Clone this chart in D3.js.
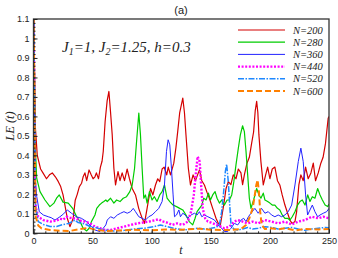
<!DOCTYPE html>
<html>
<head>
<meta charset="utf-8">
<script src="https://cdn.jsdelivr.net/npm/d3@7"></script>
<style>
  body { margin: 0; background: #fff; }
  svg { display: block; }
</style>
</head>
<body>
<div id="chart"></div>
<script>
// ticks
var xTicks = [0, 50, 100, 150, 200, 250];
var yTicks = [0, 0.1, 0.2, 0.3, 0.4, 0.5, 0.6, 0.7, 0.8, 0.9, 1, 1.1];

// N=200
var tRed = [0,1.5,3.2,6,8,11,13.5,15.9,18.5,21,23,25,27,28.6,30.8,33.6,35.3,37,38.8,40.7,42,43.5,45,47,48.8,50.4,52,53.2,55,56.6,58,59,60.6,62.3,63.8,65.2,66.6,68,69.4,71.5,73.2,75,77,79.2,81.2,83.5,86.3,89,91.9,93.9,96.1,99,101,103.2,105.1,106.8,108.8,110.5,112.7,114,115.9,118.7,120.5,122,123.7,126.3,127.7,129,131,132.8,135,137,138.8,140.4,142.4,144.6,146.8,148.8,151.6,154.4,156.4,158.1,160.9,162.9,164.8,167,169,171.3,173.3,175.5,176.9,178.4,180.6,182.6,184.5,186.2,187.6,188.8,189.8,190.7,192.4,194.4,196.4,198.1,200,202,204.2,206.4,208.4,210.4,212.7,215,216.9,218.9,221.2,222.6,224.5,226.2,228.2,230.2,232.4,234.7,236.7,238.6,240.9,243.1,245,247,249.3,250];
var vRed = [1.2,0.55,0.40,0.33,0.31,0.28,0.30,0.31,0.29,0.265,0.24,0.197,0.13,0.077,0.034,0.077,0.17,0.20,0.24,0.257,0.29,0.31,0.27,0.325,0.30,0.28,0.29,0.31,0.28,0.34,0.37,0.42,0.574,0.68,0.728,0.62,0.505,0.334,0.248,0.317,0.27,0.31,0.27,0.33,0.28,0.23,0.197,0.128,0.077,0.051,0.128,0.23,0.197,0.248,0.28,0.265,0.33,0.34,0.30,0.34,0.30,0.36,0.44,0.522,0.62,0.694,0.62,0.505,0.334,0.248,0.30,0.27,0.30,0.325,0.27,0.248,0.21,0.18,0.128,0.077,0.05,0.043,0.145,0.23,0.265,0.25,0.30,0.28,0.33,0.31,0.25,0.30,0.36,0.39,0.46,0.52,0.63,0.677,0.62,0.505,0.368,0.248,0.30,0.34,0.28,0.33,0.34,0.27,0.248,0.197,0.145,0.103,0.068,0.05,0.06,0.11,0.248,0.30,0.27,0.34,0.28,0.31,0.36,0.27,0.31,0.36,0.39,0.46,0.59,0.60];

// N=280
var tGreen = [0,1.5,2.7,5.5,9.7,13.9,17.3,19.5,21.8,25,29.4,33.1,36.5,39.4,42,45,47.1,49,52,53.5,55.7,57.6,59.5,61.2,62.4,65.2,68,70.3,73.2,75.9,78.7,81.5,83.5,85.5,87.2,89.1,90.5,91.9,93.3,94.7,96.1,98.1,100.3,102.3,104.5,106.8,108.8,110.8,113,115.3,118.1,121,123.7,126.3,129,131.8,134.7,136.7,138.4,140.4,142.4,144,146,148,149.7,151.6,153.6,155.3,157.3,159.2,161.5,163.8,165.7,167.7,169.5,171.3,173.3,175,176.9,178.4,179.8,181.2,182.6,184,186.2,188.8,190.7,192.4,194.4,195.8,198.1,200,202,204.2,206.4,208.4,210.4,212.7,215,216.9,218.9,221.2,223.4,225.4,227.4,229.7,232,233.9,235.9,238.1,240.4,242.4,244.4,246.7,248.9,250];
var vGreen = [1.2,0.45,0.283,0.214,0.171,0.137,0.155,0.18,0.197,0.16,0.155,0.128,0.085,0.06,0.026,0.012,0.026,0.06,0.094,0.128,0.145,0.155,0.163,0.171,0.163,0.18,0.155,0.171,0.163,0.18,0.188,0.214,0.248,0.334,0.471,0.617,0.505,0.334,0.18,0.197,0.155,0.214,0.171,0.188,0.163,0.197,0.214,0.248,0.18,0.163,0.145,0.137,0.128,0.12,0.094,0.06,0.043,0.077,0.111,0.128,0.145,0.18,0.171,0.206,0.171,0.197,0.214,0.18,0.155,0.171,0.145,0.171,0.171,0.197,0.265,0.351,0.437,0.505,0.552,0.522,0.42,0.30,0.18,0.128,0.171,0.23,0.197,0.18,0.206,0.171,0.163,0.155,0.145,0.145,0.128,0.12,0.094,0.077,0.077,0.068,0.085,0.111,0.145,0.163,0.171,0.145,0.197,0.163,0.188,0.18,0.23,0.197,0.171,0.145,0.137,0.15];

// N=360
var tBlue = [0,1.3,2.7,4.9,8.3,12.5,15,18.2,22.4,25.5,28.6,32.1,36.3,40.5,44.9,49.2,52,56.2,59,61.2,62.4,65.2,68,70.9,73.7,76.5,79.3,82.1,84.4,86.3,89.1,91.9,94.7,97.5,100.3,103.2,106,108.8,110.8,112.5,113.9,115.3,116.7,118.1,119.3,121,123,124.3,126.3,128.3,130.5,133.3,136.2,138.4,140.4,142.4,144.6,147.5,150.3,153.1,155.3,157.3,159.2,161.5,164.3,167.1,169.9,172.8,175.6,177.8,179.8,181.8,184,187.3,190.1,192.9,195.8,198.6,201.4,204.2,207,209.9,212.7,215.5,218.4,221.2,224,226.2,228.2,230.2,231.9,233.9,235.9,238.1,240.4,242.4,245.2,248,250];
var vBlue = [1.2,0.30,0.19,0.111,0.094,0.085,0.08,0.068,0.085,0.10,0.12,0.103,0.085,0.077,0.06,0.034,0.017,0.009,0.026,0.043,0.068,0.085,0.077,0.094,0.103,0.111,0.103,0.111,0.128,0.111,0.085,0.077,0.068,0.085,0.094,0.111,0.128,0.163,0.248,0.42,0.48,0.454,0.334,0.197,0.085,0.094,0.12,0.085,0.103,0.094,0.077,0.094,0.103,0.094,0.111,0.085,0.094,0.085,0.077,0.068,0.051,0.034,0.026,0.009,0.009,0.026,0.051,0.043,0.068,0.077,0.06,0.085,0.103,0.128,0.103,0.128,0.103,0.111,0.094,0.085,0.094,0.085,0.094,0.111,0.145,0.248,0.368,0.437,0.368,0.197,0.094,0.12,0.145,0.111,0.085,0.094,0.103,0.111,0.128];

// N=440
var tMag = [0,1.3,2,4,8.3,14,19.6,22.4,25,28,30.8,36.5,39.4,43.5,47.8,52,56.2,60.5,65.2,70.9,76.5,82.1,87.8,93.4,99,103.2,106,108.8,113,117.3,121.5,126.3,130.5,133.3,135.6,137.5,138.9,140.6,141.8,143.2,145.2,147.5,150.3,154.5,158.6,161.5,165.7,169.9,172.8,177,181.2,185.4,190.1,195.8,201.4,207,212.7,218.4,224,229.7,235.3,241,245.2,250];
var vMag = [1.2,0.2,0.13,0.085,0.068,0.06,0.065,0.075,0.07,0.085,0.08,0.075,0.065,0.06,0.051,0.034,0.026,0.017,0.017,0.026,0.034,0.043,0.051,0.056,0.062,0.068,0.072,0.062,0.055,0.043,0.051,0.043,0.06,0.111,0.197,0.317,0.394,0.368,0.248,0.128,0.077,0.06,0.055,0.045,0.034,0.026,0.034,0.06,0.068,0.06,0.051,0.06,0.051,0.068,0.06,0.051,0.06,0.045,0.06,0.068,0.085,0.077,0.085,0.077];

// N=520
var tDd = [0,1.7,2.7,4,8.3,14,19.6,25,29.4,33.6,35,37.8,43.5,47.8,53.4,59,68,76.5,85,93.4,101.8,107.4,113,118.7,122,127.7,133.3,139,144.6,150.3,154.5,157.3,159.2,160.9,162.3,163.4,164.8,166,167.1,169.4,172.8,177,181.2,185.4,190,195.8,201.4,207,212.7,218.4,224,229.7,235.3,241,246.7,250];
var vDd = [1.2,0.15,0.103,0.06,0.045,0.035,0.035,0.045,0.05,0.062,0.068,0.055,0.048,0.035,0.028,0.017,0.012,0.015,0.022,0.026,0.034,0.043,0.034,0.026,0.022,0.017,0.022,0.026,0.022,0.026,0.03,0.043,0.111,0.214,0.317,0.355,0.265,0.145,0.043,0.022,0.017,0.022,0.03,0.022,0.026,0.034,0.03,0.022,0.026,0.03,0.022,0.015,0.022,0.026,0.03,0.028];

// N=600
var tOr = [0,1.7,4,6.9,14,22.4,30.8,39.4,46.4,53.4,62,75,85,100,112,125,139,150,165,175.6,179.8,182.6,185.4,186.8,188.5,189.6,190.7,191.8,193,195.8,201.4,207,212.7,221.2,229.7,241,250];
var vOr = [1.2,0.09,0.04,0.025,0.017,0.013,0.012,0.022,0.028,0.017,0.012,0.015,0.018,0.015,0.02,0.018,0.024,0.018,0.017,0.022,0.043,0.077,0.128,0.18,0.248,0.274,0.214,0.111,0.043,0.022,0.026,0.02,0.026,0.015,0.022,0.02,0.022];

var names = ["N=200", "N=280", "N=360", "N=440", "N=520", "N=600"];

var series = [
  {name: names[0], t: tRed, v: vRed, color: "#d40000", w: 1.2, dash: null},
  {name: names[1], t: tGreen, v: vGreen, color: "#00cc00", w: 1.2, dash: null},
  {name: names[2], t: tBlue, v: vBlue, color: "#2222ff", w: 1.0, dash: null},
  {name: names[3], t: tMag, v: vMag, color: "#ff00ff", w: 2.4, dash: "2,1.6"},
  {name: names[4], t: tDd, v: vDd, color: "#1e88ff", w: 1.5, dash: "6,1.5,1.5,1.5"},
  {name: names[5], t: tOr, v: vOr, color: "#ff8000", w: 2.0, dash: "6,3"}
];

var W = 338, H = 258;
var svg = d3.select("#chart").append("svg").attr("width", W).attr("height", H);

var x = d3.scaleLinear().domain([0, 250]).range([33.5, 329]);
var y = d3.scaleLinear().domain([0, 1.1]).range([233.3, 19]);

svg.append("clipPath").attr("id", "clip")
  .append("rect").attr("x", 33.5).attr("y", 19).attr("width", 329 - 33.5).attr("height", 233.3 - 19);

var line = d3.line().x(function(d){ return x(d[0]); }).y(function(d){ return y(d[1]); });

var g = svg.append("g").attr("clip-path", "url(#clip)");
series.forEach(function(s){
  var pts = s.t.map(function(t, i){ return [t, s.v[i]]; });
  var p = g.append("path").datum(pts)
    .attr("d", line)
    .attr("fill", "none")
    .attr("stroke", s.color)
    .attr("stroke-width", s.w)
    .attr("stroke-linejoin", "round");
  if (s.dash) p.attr("stroke-dasharray", s.dash);
});

// frame
svg.append("rect").attr("x", 33.5).attr("y", 19).attr("width", 329 - 33.5).attr("height", 233.3 - 19)
  .attr("fill", "none").attr("stroke", "#333").attr("stroke-width", 1.3);

// axes, ticks inward
var yMinor = d3.range(0, 1.1001, 0.02);
var xMinor = d3.range(0, 250.1, 10);

svg.append("g").attr("transform", "translate(33.5,0)")
  .call(d3.axisLeft(y).tickValues(yMinor).tickSize(-2).tickFormat(""))
  .call(function(a){ a.select(".domain").remove(); });
svg.append("g").attr("transform", "translate(0,233.3)")
  .call(d3.axisBottom(x).tickValues(xMinor).tickSize(-2).tickFormat(""))
  .call(function(a){ a.select(".domain").remove(); });

var yAx = svg.append("g").attr("transform", "translate(33.5,0)")
  .call(d3.axisLeft(y).tickValues(yTicks).tickSize(-4).tickPadding(4).tickFormat(d3.format("")));
yAx.select(".domain").remove();
var xAx = svg.append("g").attr("transform", "translate(0,233.3)")
  .call(d3.axisBottom(x).tickValues(xTicks).tickSize(-4).tickPadding(4));
xAx.select(".domain").remove();

svg.selectAll(".tick line").attr("stroke", "#222").attr("stroke-width", 1);
svg.selectAll(".tick text").attr("font-family", "Liberation Sans, Arial, sans-serif")
  .attr("font-size", 9).attr("fill", "#222");

// title
svg.append("text").attr("x", 181).attr("y", 14).attr("text-anchor", "middle")
  .attr("font-family", "Liberation Sans, Arial, sans-serif").attr("font-size", 11).attr("fill", "#222")
  .text("(a)");

// axis labels
svg.append("text").attr("x", 181).attr("y", 254).attr("text-anchor", "middle")
  .attr("font-family", "Liberation Serif, Times New Roman, serif").attr("font-style", "italic")
  .attr("font-size", 12).attr("fill", "#222").text("t");
svg.append("text").attr("transform", "translate(14,126) rotate(-90)").attr("text-anchor", "middle")
  .attr("font-family", "Liberation Serif, Times New Roman, serif").attr("font-style", "italic")
  .attr("font-size", 12.5).attr("fill", "#222").text("LE (t)");

// annotation
var ann = svg.append("text").attr("x", 62).attr("y", 52)
  .attr("font-family", "Liberation Serif, Times New Roman, serif").attr("font-style", "italic")
  .attr("font-size", 15).attr("fill", "#222");
ann.append("tspan").text("J");
ann.append("tspan").attr("font-size", 10).attr("dy", 3).text("1");
ann.append("tspan").attr("dy", -3).text("=1, J");
ann.append("tspan").attr("font-size", 10).attr("dy", 3).text("2");
ann.append("tspan").attr("dy", -3).text("=1.25, h=0.3");

// legend
var leg = svg.append("g");
series.forEach(function(s, i){
  var yy = 30 + i * 12.2;
  var l = leg.append("line").attr("x1", 238).attr("x2", 285).attr("y1", yy).attr("y2", yy)
    .attr("stroke", s.color).attr("stroke-width", s.w);
  if (s.dash) l.attr("stroke-dasharray", s.dash);
  leg.append("text").attr("x", 293).attr("y", yy + 3.5)
    .attr("font-family", "Liberation Serif, Times New Roman, serif").attr("font-style", "italic")
    .attr("font-size", 10.5).attr("fill", "#222").text(s.name);
});
</script>
</body>
</html>
